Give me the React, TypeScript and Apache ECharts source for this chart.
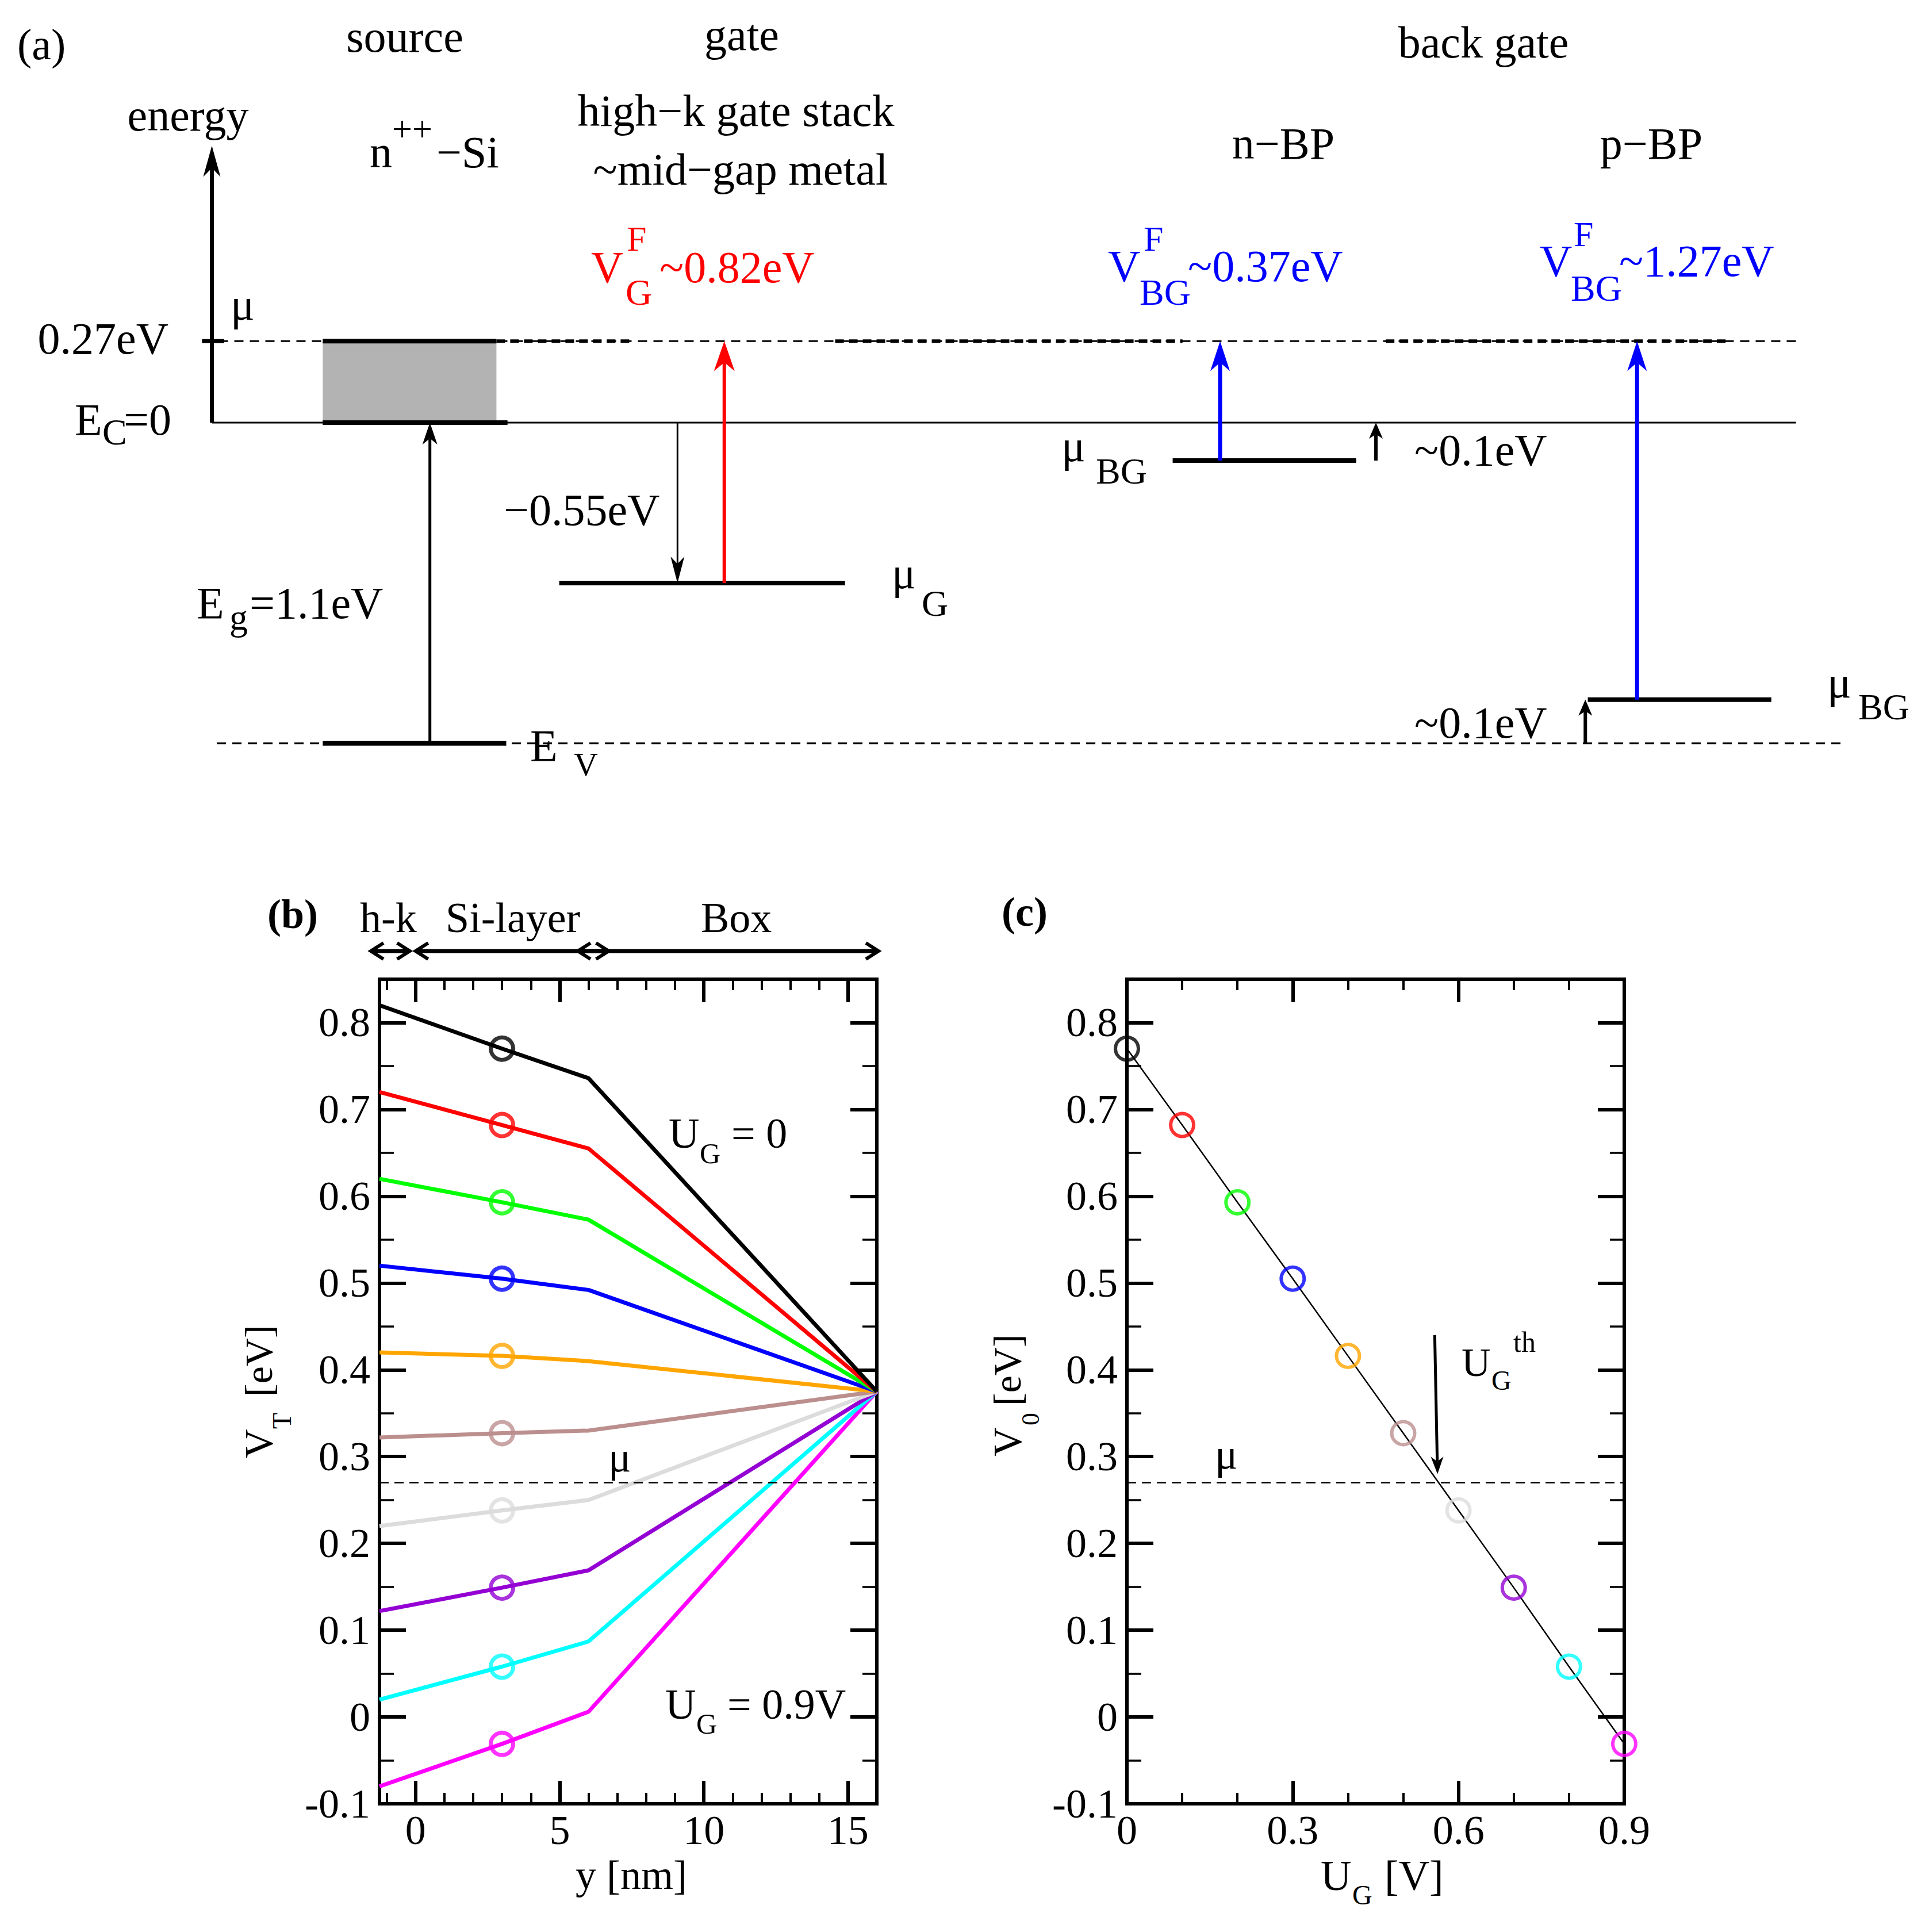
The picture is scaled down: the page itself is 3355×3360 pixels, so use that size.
import React, { useEffect, useRef } from 'react';
import * as echarts from 'echarts';

const FONT = '"Liberation Serif", "Times New Roman", Times, serif';

// ---------------- Panel (b): V_T(y) profiles ----------------
const gateVoltages = [0, 0.1, 0.2, 0.3, 0.4, 0.5, 0.6, 0.7, 0.8, 0.9];
const lineColors = ['#000000', '#ff0000', '#00ff00', '#0000ff', '#ffa500', '#bc8f8f', '#dcdcdc', '#9400d3', '#00ffff', '#ff00ff'];
const profileY = [-1.25, 3, 6, 16]; // nm
const vtAtEdge = [0.82, 0.72, 0.62, 0.52, 0.42, 0.322, 0.22, 0.122, 0.02, -0.08];
const vtAtMarker = [0.77, 0.682, 0.593, 0.505, 0.416, 0.327, 0.238, 0.149, 0.058, -0.031];
const vtAtInterface = [0.736, 0.655, 0.573, 0.492, 0.41, 0.33, 0.25, 0.169, 0.087, 0.006];
const vtAtBoxEnd = [0.375, 0.375, 0.375, 0.375, 0.375, 0.375, 0.375, 0.375, 0.375, 0.375];
const markerY = 3;
const MU_LEVEL = 0.27;

const bXRange = [-1.25, 16];
const vRange = [-0.1, 0.85];
const bXMajor = [0, 5, 10, 15];
const bXMinor = [-1, 1, 2, 3, 4, 6, 7, 8, 9, 11, 12, 13, 14];
const vMajor = [-0.1, 0, 0.1, 0.2, 0.3, 0.4, 0.5, 0.6, 0.7, 0.8];
const vMinor = [-0.05, 0.05, 0.15, 0.25, 0.35, 0.45, 0.55, 0.65, 0.75];
const layerNames = ['h-k', 'Si-layer', 'Box'];
const layerExtent = [[-1.55, -0.2], [0, 6.7], [5.63, 16.06]];

// ---------------- Panel (c): V0 vs U_G ----------------
const cXRange = [0, 0.9];
const cXMajor = [0, 0.3, 0.6, 0.9];
const cXMinor = [0.1, 0.2, 0.4, 0.5, 0.7, 0.8];
const thresholdArrow = [[0.557, 0.44, 0.562, 0.28]];

// ---------------- Panel (a): band schematic (x: schematic position, y: energy in eV) ----------------
const E_C = 0;
const MU = 0.28;
const E_V = -1.1;
const MU_G = -0.55;
const MU_BG_N = -0.13;
const MU_BG_P = -0.95;
const ENERGY_AXIS_TOP = 0.95;
const aXRange = [0, 1566];
const aERange = [-1.5, 1.45];
const thickLevels = [[262, 403, MU], [262, 412, E_C], [262, 411, E_V], [454, 686, MU_G], [952, 1101, MU_BG_N], [1289, 1438, MU_BG_P]];
const thinSolid = [[172, 1458, E_C]];
const thinDashed = [[165, 1458, MU], [176, 1498, E_V]];
const thickDashed = [[403, 514, MU], [678, 960, MU], [1125, 1405, MU]];
const axisTickMu = [[164, 182, MU]];
const sourceBox = [[262, 403, E_C, MU]];
const energyAxis = [[172, E_C, ENERGY_AXIS_TOP]];
const gapArrow = [[349, E_V, E_C]];
const gateOffsetArrow = [[550, E_C, MU_G]];
const smallArrows = [[1117, MU_BG_N, E_C], [1287, E_V, MU_BG_P]];
const gateArrow = [[588, MU_G, MU]];
const backGateArrows = [[990.5, MU_BG_N, MU], [1329, MU_BG_P, MU]];

const fmt = (v: number) => String(+Number(v).toFixed(2));

function txt(x: number, y: number, text: string, size: number, o: any = {}) {
  const align = o.align || 'left';
  return {
    type: 'text', x, y, silent: true, z: 50,
    style: {
      text, fill: o.fill || '#000', fontFamily: FONT, fontSize: size,
      fontWeight: o.bold ? 'bold' : 'normal',
      textAlign: align, align, textVerticalAlign: 'middle', verticalAlign: 'middle',
    },
  };
}

function arrowShape(ax: number, ay: number, bx: number, by: number, width: number, headLen: number, headHalf: number, color: string) {
  const dx = bx - ax, dy = by - ay;
  const L = Math.hypot(dx, dy) || 1;
  const ux = dx / L, uy = dy / L;
  const px = -uy, py = ux;
  const baseX = bx - ux * headLen, baseY = by - uy * headLen;
  const notchX = bx - ux * headLen * 0.72, notchY = by - uy * headLen * 0.72;
  return [
    { type: 'line', shape: { x1: ax, y1: ay, x2: notchX, y2: notchY }, style: { stroke: color, lineWidth: width } },
    { type: 'polygon', shape: { points: [[bx, by], [baseX + px * headHalf, baseY + py * headHalf], [notchX, notchY], [baseX - px * headHalf, baseY - py * headHalf]] }, style: { fill: color } },
  ];
}

function vArrowSeries(data: number[][], color: string, width: number, headLen: number, headHalf: number) {
  return {
    type: 'custom', xAxisIndex: 8, yAxisIndex: 8, z: 5, silent: true, data,
    renderItem: (params: any, api: any) => {
      const a = api.coord([api.value(0), api.value(1)]);
      const b = api.coord([api.value(0), api.value(2)]);
      return { type: 'group', children: arrowShape(a[0], a[1], b[0], b[1], width, headLen, headHalf, color) };
    },
  };
}

function segSeries(data: number[][], width: number, dash: number[] | null, z = 3) {
  return {
    type: 'custom', xAxisIndex: 8, yAxisIndex: 8, z, silent: true, data,
    renderItem: (params: any, api: any) => {
      const p0 = api.coord([api.value(0), api.value(2)]);
      const p1 = api.coord([api.value(1), api.value(2)]);
      const style: any = { stroke: '#000', lineWidth: width };
      if (dash) style.lineDash = dash;
      return { type: 'line', shape: { x1: p0[0], y1: p0[1], x2: p1[0], y2: p1[1] }, style };
    },
  };
}

function valueAxis(o: any) {
  return {
    type: 'value', gridIndex: o.grid, position: o.pos, min: o.min, max: o.max, show: o.show !== false,
    axisLine: { show: false, onZero: false },
    splitLine: { show: false },
    minorTick: { show: false },
    axisTick: { show: o.show !== false, inside: true, length: o.len, lineStyle: { color: '#000', width: o.w }, customValues: o.values },
    axisLabel: o.labels
      ? { show: true, customValues: o.values, color: '#000', fontFamily: FONT, fontSize: 72, margin: o.margin, formatter: fmt }
      : { show: false, customValues: o.values },
  };
}

function buildOption() {
  const xAxis = [
    valueAxis({ grid: 0, pos: 'bottom', min: bXRange[0], max: bXRange[1], values: bXMajor, len: 40, w: 6, labels: true, margin: 10 }),
    valueAxis({ grid: 0, pos: 'top', min: bXRange[0], max: bXRange[1], values: bXMajor, len: 40, w: 6 }),
    valueAxis({ grid: 0, pos: 'bottom', min: bXRange[0], max: bXRange[1], values: bXMinor, len: 19, w: 4 }),
    valueAxis({ grid: 0, pos: 'top', min: bXRange[0], max: bXRange[1], values: bXMinor, len: 19, w: 4 }),
    valueAxis({ grid: 1, pos: 'bottom', min: cXRange[0], max: cXRange[1], values: cXMajor, len: 40, w: 6, labels: true, margin: 10 }),
    valueAxis({ grid: 1, pos: 'top', min: cXRange[0], max: cXRange[1], values: cXMajor, len: 40, w: 6 }),
    valueAxis({ grid: 1, pos: 'bottom', min: cXRange[0], max: cXRange[1], values: cXMinor, len: 19, w: 4 }),
    valueAxis({ grid: 1, pos: 'top', min: cXRange[0], max: cXRange[1], values: cXMinor, len: 19, w: 4 }),
    valueAxis({ grid: 2, pos: 'bottom', min: aXRange[0], max: aXRange[1], values: [], len: 0, w: 0, show: false }),
  ];
  const yAxis = [
    valueAxis({ grid: 0, pos: 'left', min: vRange[0], max: vRange[1], values: vMajor, len: 46, w: 6, labels: true, margin: 16 }),
    valueAxis({ grid: 0, pos: 'right', min: vRange[0], max: vRange[1], values: vMajor, len: 46, w: 6 }),
    valueAxis({ grid: 0, pos: 'left', min: vRange[0], max: vRange[1], values: vMinor, len: 25, w: 3.5 }),
    valueAxis({ grid: 0, pos: 'right', min: vRange[0], max: vRange[1], values: vMinor, len: 25, w: 3.5 }),
    valueAxis({ grid: 1, pos: 'left', min: vRange[0], max: vRange[1], values: vMajor, len: 46, w: 6, labels: true, margin: 16 }),
    valueAxis({ grid: 1, pos: 'right', min: vRange[0], max: vRange[1], values: vMajor, len: 46, w: 6 }),
    valueAxis({ grid: 1, pos: 'left', min: vRange[0], max: vRange[1], values: vMinor, len: 25, w: 3.5 }),
    valueAxis({ grid: 1, pos: 'right', min: vRange[0], max: vRange[1], values: vMinor, len: 25, w: 3.5 }),
    valueAxis({ grid: 2, pos: 'left', min: aERange[0], max: aERange[1], values: [], len: 0, w: 0, show: false }),
  ];

  const muMarkLine = {
    silent: true, symbol: ['none', 'none'], label: { show: false },
    lineStyle: { color: '#000', width: 2.5, type: [16, 10] },
    data: [{ yAxis: MU_LEVEL }],
  };

  const series: any[] = [];
  // panel (b) profile lines, drawn from U_G = 0.9 up to U_G = 0 (black on top)
  for (let k = gateVoltages.length - 1; k >= 0; k--) {
    const pts = [vtAtEdge[k], vtAtMarker[k], vtAtInterface[k], vtAtBoxEnd[k]].map((v, j) => [profileY[j], v]);
    series.push({
      type: 'line', name: 'UG=' + gateVoltages[k], xAxisIndex: 0, yAxisIndex: 0, data: pts,
      symbol: 'none', lineStyle: { color: lineColors[k], width: 7 }, z: 3,
      markLine: k === 0 ? muMarkLine : undefined,
    });
  }
  series.push({
    type: 'scatter', xAxisIndex: 0, yAxisIndex: 0, symbol: 'circle', symbolSize: 39, clip: false, z: 4,
    itemStyle: { color: 'rgba(0,0,0,0)', borderWidth: 7 },
    data: vtAtMarker.map((v, k) => ({ value: [markerY, v], itemStyle: { borderColor: lineColors[k], color: 'rgba(0,0,0,0)' } })),
  });
  // layer arrows above panel (b)
  series.push({
    type: 'custom', xAxisIndex: 0, yAxisIndex: 0, silent: true, z: 5, data: layerExtent,
    renderItem: (params: any, api: any) => {
      const x0 = api.coord([api.value(0), vRange[1]])[0];
      const x1 = api.coord([api.value(1), vRange[1]])[0];
      const y = api.coord([0, vRange[1]])[1] - 49;
      const ch = { stroke: '#000', lineWidth: 6, fill: 'none' };
      return {
        type: 'group', children: [
          { type: 'line', shape: { x1: x0 + 4, y1: y, x2: x1 - 4, y2: y }, style: { stroke: '#000', lineWidth: 7 } },
          { type: 'polyline', shape: { points: [[x0 + 22, y - 14], [x0, y], [x0 + 22, y + 14]] }, style: ch },
          { type: 'polyline', shape: { points: [[x1 - 22, y - 14], [x1, y], [x1 - 22, y + 14]] }, style: ch },
        ],
      };
    },
  });

  // panel (c)
  series.push({
    type: 'line', xAxisIndex: 4, yAxisIndex: 4, symbol: 'none', z: 3,
    data: gateVoltages.map((u, k) => [u, vtAtMarker[k]]),
    lineStyle: { color: '#000', width: 2.5 },
    markLine: muMarkLine,
  });
  series.push({
    type: 'scatter', xAxisIndex: 4, yAxisIndex: 4, symbol: 'circle', symbolSize: 40, clip: false, z: 4,
    itemStyle: { color: 'rgba(0,0,0,0)', borderWidth: 6 },
    data: gateVoltages.map((u, k) => ({ value: [u, vtAtMarker[k]], itemStyle: { borderColor: lineColors[k], color: 'rgba(0,0,0,0)' } })),
  });
  series.push({
    type: 'custom', xAxisIndex: 4, yAxisIndex: 4, silent: true, z: 5, data: thresholdArrow,
    renderItem: (params: any, api: any) => {
      const a = api.coord([api.value(0), api.value(1)]);
      const b = api.coord([api.value(2), api.value(3)]);
      return { type: 'group', children: arrowShape(a[0], a[1], b[0], b[1], 5, 30, 11, '#000') };
    },
  });

  // panel (a)
  series.push({
    type: 'custom', xAxisIndex: 8, yAxisIndex: 8, silent: true, z: 1, data: sourceBox,
    renderItem: (params: any, api: any) => {
      const p0 = api.coord([api.value(0), api.value(3)]);
      const p1 = api.coord([api.value(1), api.value(2)]);
      return { type: 'rect', shape: { x: p0[0], y: p0[1], width: p1[0] - p0[0], height: p1[1] - p0[1] }, style: { fill: '#b3b3b3' } };
    },
  });
  series.push(segSeries(thinSolid, 3, null));
  series.push(segSeries(thinDashed, 3, [16, 11]));
  series.push(segSeries(thickDashed, 6, [15, 9]));
  series.push(segSeries(thickLevels, 8, null, 4));
  series.push(segSeries(axisTickMu, 7, null, 4));
  series.push(vArrowSeries(energyAxis, '#000', 7, 54, 15));
  series.push(vArrowSeries(gapArrow, '#000', 5, 38, 13));
  series.push(vArrowSeries(gateOffsetArrow, '#000', 3, 46, 12));
  series.push(vArrowSeries(smallArrows, '#000', 6, 28, 12));
  series.push(vArrowSeries(gateArrow, '#ff0000', 6, 52, 18));
  series.push(vArrowSeries(backGateArrows, '#0000ff', 7, 52, 17));

  const RED = '#ff0000';
  const BLUE = '#0000ff';
  const elements: any[] = [
    // panel (a)
    txt(30, 77, '(a)', 76),
    txt(704, 63, 'source', 78, { align: 'center' }),
    txt(1290, 60, 'gate', 78, { align: 'center' }),
    txt(2580, 73, 'back gate', 78, { align: 'center' }),
    txt(327, 200, 'energy', 78, { align: 'center' }),
    txt(1280, 192, 'high\u2212k gate stack', 78, { align: 'center' }),
    txt(1288, 294, '~mid\u2212gap metal', 78, { align: 'center' }),
    txt(643, 264, 'n', 78), txt(682, 224, '++', 62), txt(759, 264, '\u2212Si', 78),
    txt(2232, 249, 'n\u2212BP', 78, { align: 'center' }),
    txt(2872, 249, 'p\u2212BP', 78, { align: 'center' }),
    txt(1028, 464, 'V', 78, { fill: RED }), txt(1090, 415, 'F', 62, { fill: RED }), txt(1088, 508, 'G', 64, { fill: RED }), txt(1147, 464, '~0.82eV', 78, { fill: RED }),
    txt(1927, 462, 'V', 78, { fill: BLUE }), txt(1989, 415, 'F', 62, { fill: BLUE }), txt(1982, 508, 'BG', 64, { fill: BLUE }), txt(2066, 462, '~0.37eV', 78, { fill: BLUE }),
    txt(2678, 453, 'V', 78, { fill: BLUE }), txt(2737, 407, 'F', 62, { fill: BLUE }), txt(2732, 501, 'BG', 64, { fill: BLUE }), txt(2816, 453, '~1.27eV', 78, { fill: BLUE }),
    txt(401, 529, '\u03bc', 78),
    txt(293, 588, '0.27eV', 78, { align: 'right' }),
    txt(130, 729, 'E', 78), txt(178, 751, 'C', 64), txt(215, 729, '=0', 78),
    txt(342, 1048, 'E', 78), txt(399, 1073, 'g', 64), txt(434, 1048, '=1.1eV', 78),
    txt(876, 886, '\u22120.55eV', 78),
    txt(1551, 996, '\u03bc', 78), txt(1603, 1049, 'G', 64),
    txt(922, 1296, 'E', 78), txt(998, 1329, 'V', 58),
    txt(1846, 775, '\u03bc', 78), txt(1906, 819, 'BG', 64),
    txt(2460, 782, '~0.1eV', 78),
    txt(2460, 1256, '~0.1eV', 78),
    txt(3178, 1186, '\u03bc', 78), txt(3232, 1229, 'BG', 64),
    // panel (b)
    txt(465, 1590, '(b)', 72, { bold: true }),
    txt(626, 1596, layerNames[0], 74), txt(775, 1596, layerNames[1], 74), txt(1219, 1596, layerNames[2], 74),
    txt(1163, 1971, 'U', 74), txt(1217, 2006, 'G', 50), txt(1272, 1971, '= 0', 74),
    txt(1157, 2964, 'U', 74), txt(1211, 2998, 'G', 50), txt(1265, 2964, '= 0.9V', 74),
    txt(1058, 2534, '\u03bc', 74),
    txt(1098, 3261, 'y [nm]', 72, { align: 'center' }),
    {
      type: 'group', x: 450, y: 2536, rotation: Math.PI / 2,
      children: [txt(0, 0, 'V', 70), txt(51, 40, 'T', 46), txt(107, 0, '[eV]', 68)],
    },
    // panel (c)
    txt(1742, 1586, '(c)', 72, { bold: true }),
    txt(2113, 2529, '\u03bc', 74),
    txt(2542, 2369, 'U', 70), txt(2594, 2400, 'G', 48), txt(2632, 2334, 'th', 50),
    txt(2297, 3262, 'U', 74), txt(2352, 3295, 'G', 48), txt(2408, 3262, '[V]', 74),
    {
      type: 'group', x: 1752, y: 2533, rotation: Math.PI / 2,
      children: [txt(0, 0, 'V', 70), txt(54, 40, '0', 44), txt(88, 0, '[eV]', 68)],
    },
  ];

  return {
    animation: false,
    backgroundColor: '#ffffff',
    textStyle: { fontFamily: FONT },
    grid: [
      { left: 660, top: 1703, width: 865, height: 1434, show: true, borderColor: '#000', borderWidth: 6, backgroundColor: 'rgba(0,0,0,0)', containLabel: false, outerBoundsMode: 'none' },
      { left: 1960, top: 1703, width: 865, height: 1434, show: true, borderColor: '#000', borderWidth: 6, backgroundColor: 'rgba(0,0,0,0)', containLabel: false, outerBoundsMode: 'none' },
      { left: 0, top: 0, width: 3355, height: 1495.5, show: false, containLabel: false, outerBoundsMode: 'none' },
    ],
    xAxis, yAxis, series,
    graphic: { elements },
  };
}

export default function App() {
  const ref = useRef<HTMLDivElement>(null);
  useEffect(() => {
    document.body.style.margin = '0';
    document.body.style.background = '#ffffff';
    if (!ref.current) return;
    const chart = echarts.init(ref.current, null, { renderer: 'svg' });
    chart.setOption(buildOption() as any);
    return () => chart.dispose();
  }, []);
  return <div ref={ref} style={{ width: 3355, height: 3360 }} />;
}
